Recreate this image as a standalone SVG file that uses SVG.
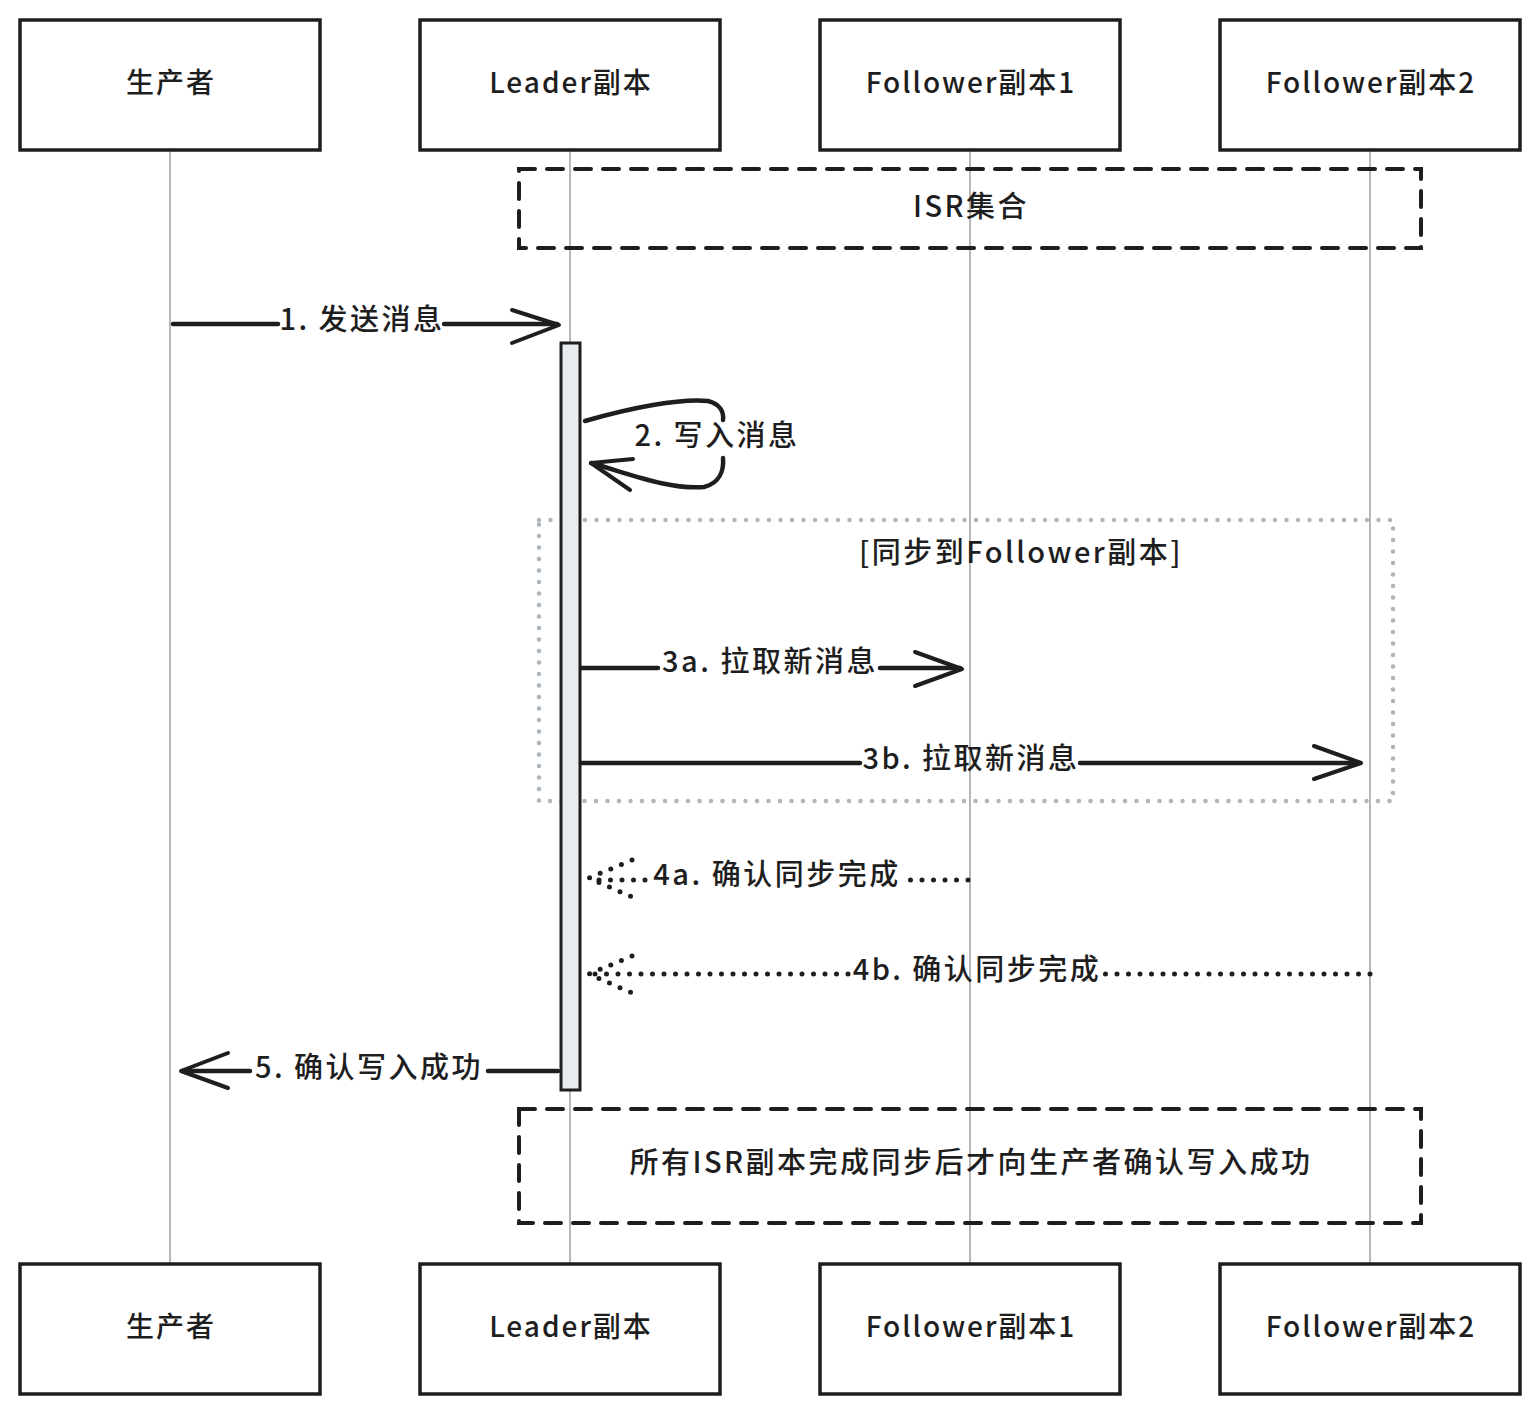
<svg xmlns="http://www.w3.org/2000/svg" width="1540" height="1414" viewBox="0 0 1540 1414">
<style>
text{font-family:"Noto Sans CJK SC","Noto Sans",sans-serif;font-size:29px;font-weight:500;fill:#1e1e1e;text-anchor:middle;letter-spacing:2.5px}
.actor text{font-size:28px;letter-spacing:2px}
.actor rect{fill:#fff;stroke:#1e1e1e;stroke-width:3.5}
.life{stroke:#a0a0a0;stroke-width:1.5}
.msg{stroke:#1e1e1e;stroke-width:4.5;fill:none;stroke-linecap:round;stroke-linejoin:round}
.head{stroke:#1e1e1e;stroke-width:4;fill:none;stroke-linecap:round;stroke-linejoin:round}
.dot{stroke:#1e1e1e;stroke-width:5;fill:none;stroke-linecap:round;stroke-dasharray:0 11.5}
.note{fill:none;stroke:#1e1e1e;stroke-width:4;stroke-dasharray:16 12;stroke-linecap:round}
.loop{fill:none;stroke:#adb5bd;stroke-width:4.5;stroke-dasharray:0 11.5;stroke-linecap:round}
</style>
<g id="lifelines">
<line class="life" x1="170" y1="150" x2="170" y2="1264"/>
<line class="life" x1="570" y1="150" x2="570" y2="1264"/>
<line class="life" x1="970" y1="150" x2="970" y2="1264"/>
<line class="life" x1="1370" y1="150" x2="1370" y2="1264"/>
</g>
<g id="actor-producer-top" class="actor"><rect x="20" y="20" width="300" height="130"/><text x="171" y="93">生产者</text></g>
<g id="actor-leader-top" class="actor"><rect x="420" y="20" width="300" height="130"/><text x="571" y="93">Leader副本</text></g>
<g id="actor-follower1-top" class="actor"><rect x="820" y="20" width="300" height="130"/><text x="971" y="93">Follower副本1</text></g>
<g id="actor-follower2-top" class="actor"><rect x="1220" y="20" width="300" height="130"/><text x="1371" y="93">Follower副本2</text></g>
<g id="actor-producer-bottom" class="actor"><rect x="20" y="1264" width="300" height="130"/><text x="171" y="1337">生产者</text></g>
<g id="actor-leader-bottom" class="actor"><rect x="420" y="1264" width="300" height="130"/><text x="571" y="1337">Leader副本</text></g>
<g id="actor-follower1-bottom" class="actor"><rect x="820" y="1264" width="300" height="130"/><text x="971" y="1337">Follower副本1</text></g>
<g id="actor-follower2-bottom" class="actor"><rect x="1220" y="1264" width="300" height="130"/><text x="1371" y="1337">Follower副本2</text></g>
<g id="note-isr"><rect class="note" x="519" y="169" width="902" height="79"/><text x="971" y="217">ISR集合</text></g>
<g id="loop-sync"><rect class="loop" x="539" y="520" width="854" height="281"/><text x="1021" y="563">[同步到Follower副本]</text></g>
<g id="activation-leader"><rect x="561" y="343" width="19" height="747" fill="#e9ecef" stroke="#1e1e1e" stroke-width="3"/></g>
<g id="note-ack"><rect class="note" x="519" y="1109" width="902" height="114"/><text x="971" y="1173">所有ISR副本完成同步后才向生产者确认写入成功</text></g>
<g id="connectors">
<g id="m1">
<path class="msg" d="M173 324H278M444 324H557"/>
<path class="head" d="M512 310L559 325L512 343"/>
<text x="362" y="330">1. 发送消息</text>
</g>
<g id="m2">
<path class="msg" d="M585 421C630 408 680 398 708 401C720 404 724 412 723 420M723 458C724 470 720 483 704 487C670 490 630 474 591 463"/>
<path class="head" d="M633 459L591 463L630 490"/>
<text x="717" y="446">2. 写入消息</text>
</g>
<g id="m3a">
<path class="msg" d="M581 668H658M880 668H960"/>
<path class="head" d="M915 652L962 669L915 686"/>
<text x="770" y="672">3a. 拉取新消息</text>
</g>
<g id="m3b">
<path class="msg" d="M581 763H860M1080 763H1360"/>
<path class="head" d="M1314 746L1361 763L1314 779"/>
<text x="971" y="769">3b. 拉取新消息</text>
</g>
<g id="m4a">
<path class="dot" d="M968 880H906M645 880H590"/>
<path class="dot" stroke-dasharray="0 9" d="M632 860L589 878L632 897"/>
<text x="777" y="885">4a. 确认同步完成</text>
</g>
<g id="m4b">
<path class="dot" d="M1370 974H1104M848 974H590"/>
<path class="dot" stroke-dasharray="0 9" d="M632 956L589 974L632 993"/>
<text x="977" y="980">4b. 确认同步完成</text>
</g>
<g id="m5">
<path class="msg" d="M558 1071H488M250 1071H182"/>
<path class="head" d="M228 1053L181 1071L228 1088"/>
<text x="369" y="1078">5. 确认写入成功</text>
</g>
</g>
</svg>
